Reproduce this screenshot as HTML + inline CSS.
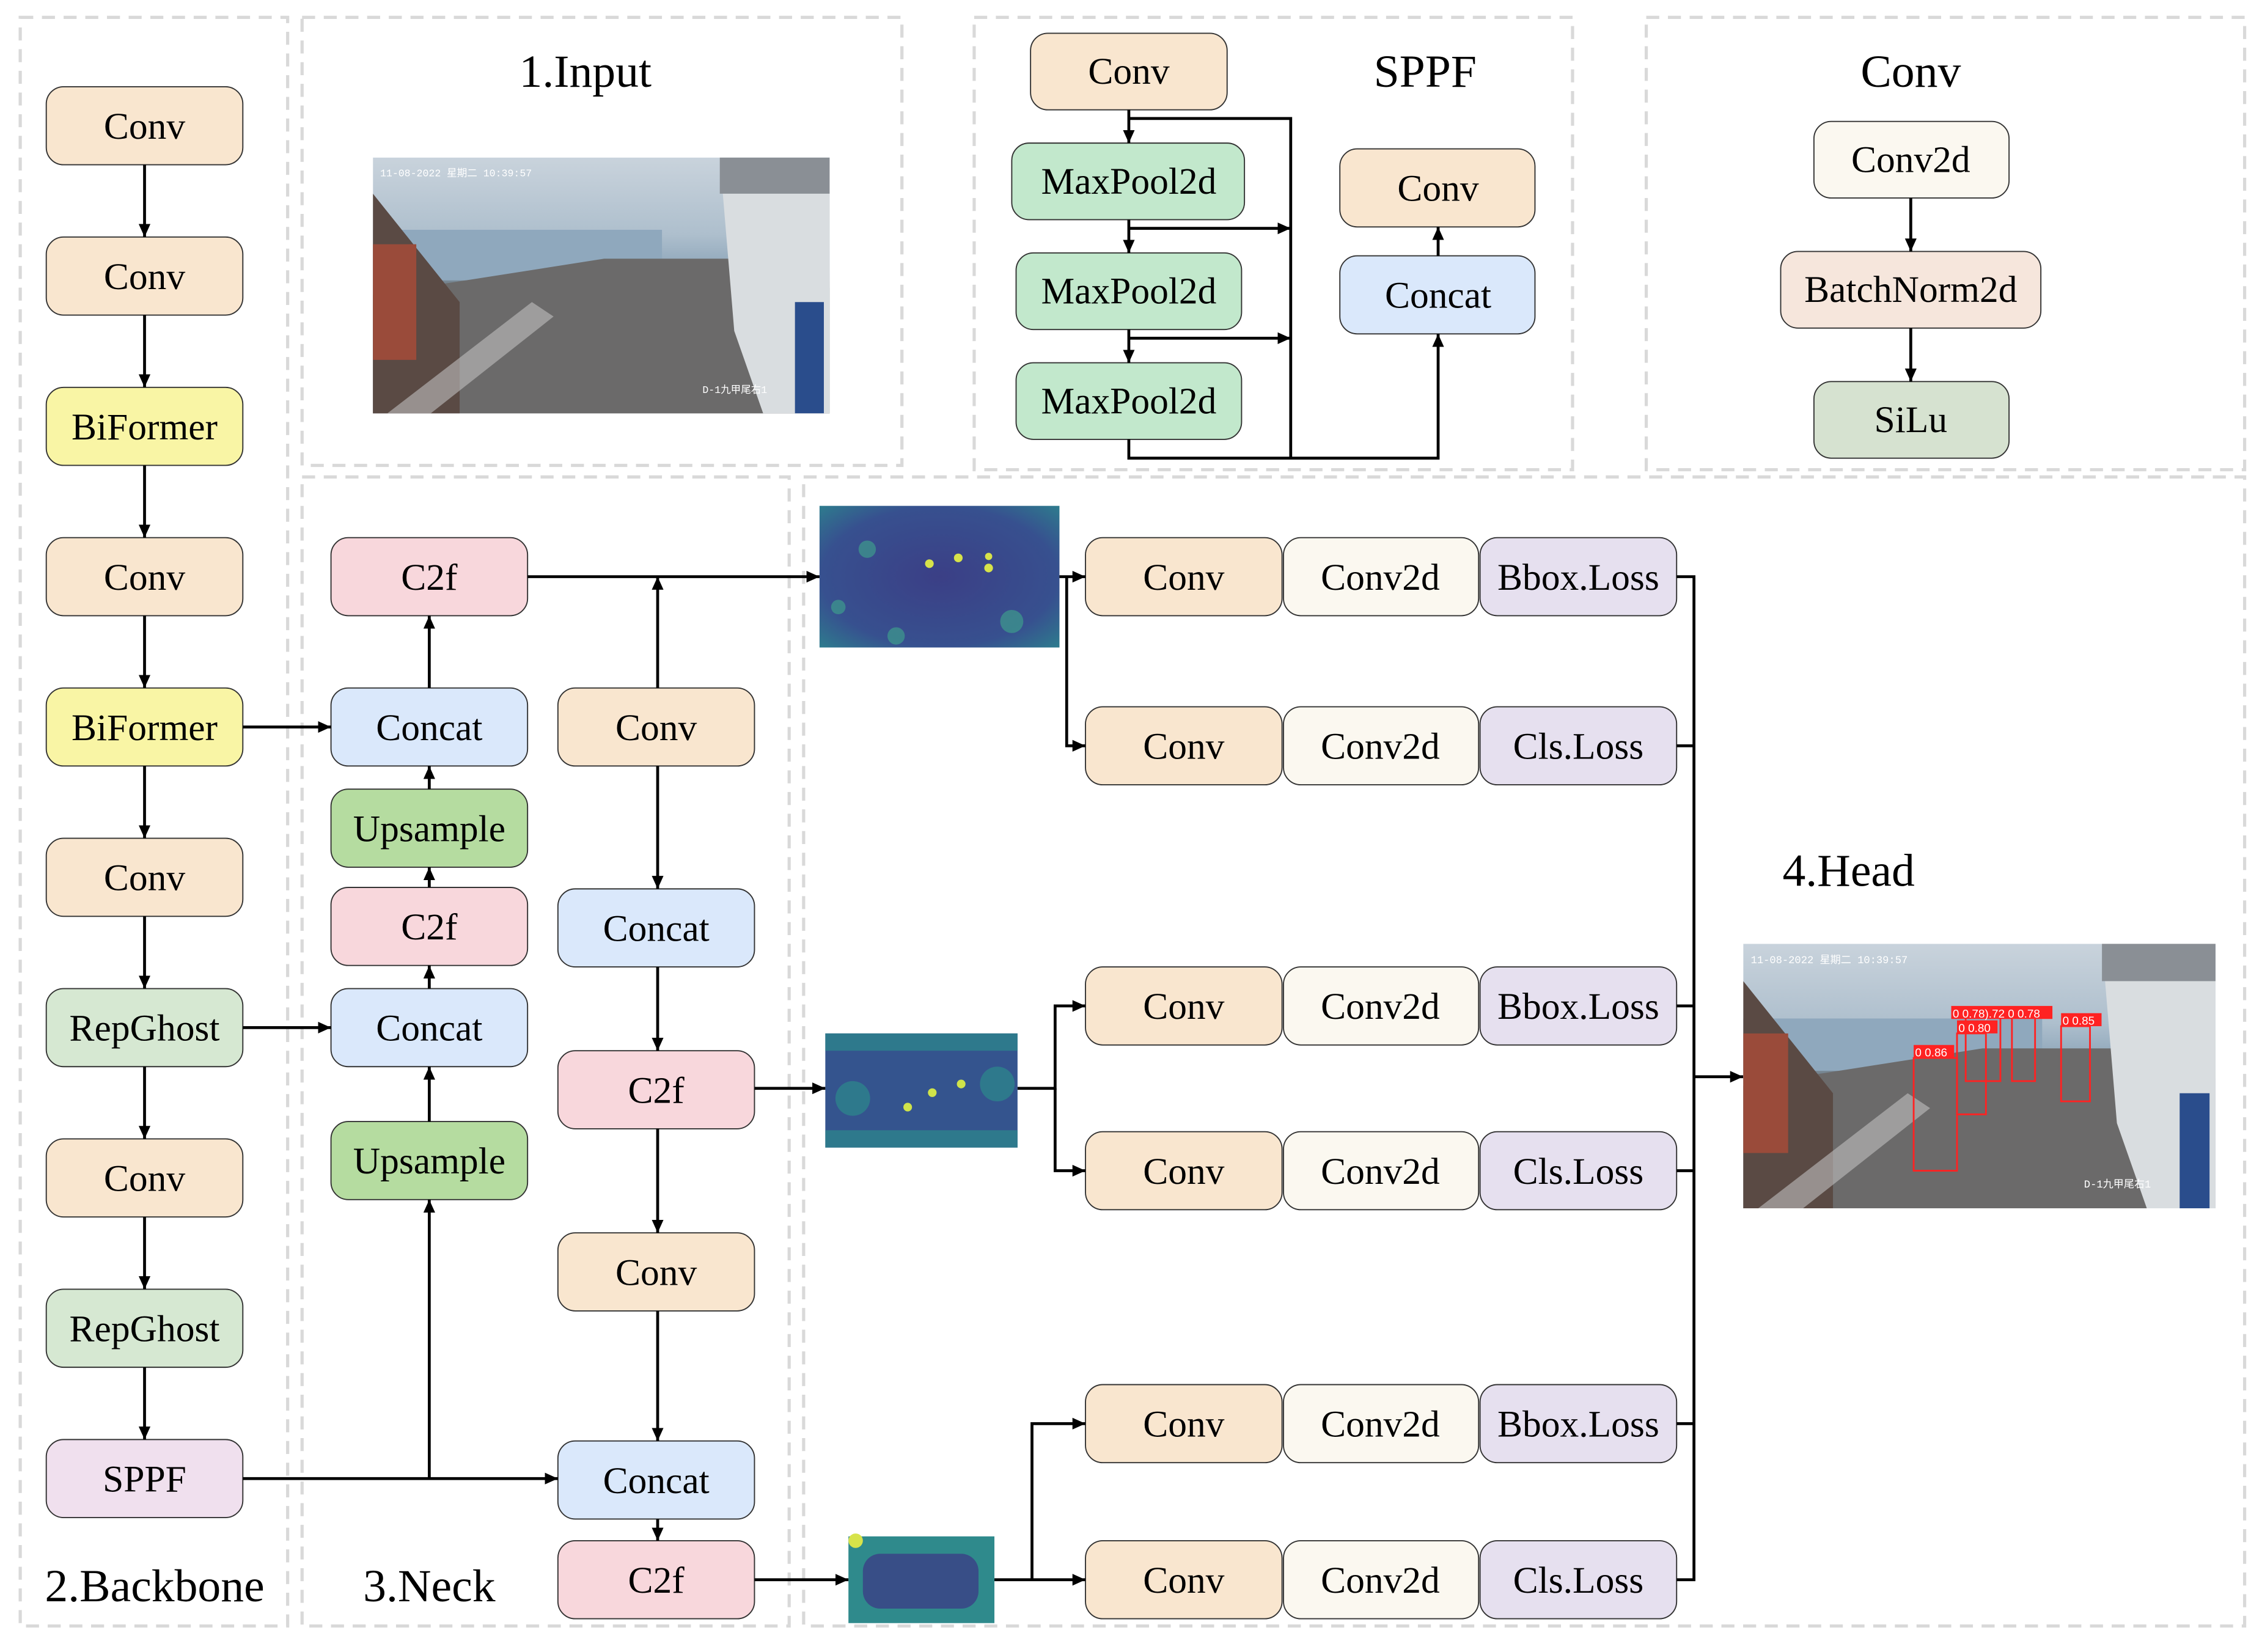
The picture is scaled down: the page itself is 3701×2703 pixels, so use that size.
<!DOCTYPE html>
<html><head><meta charset="utf-8"><style>
html,body{margin:0;padding:0;background:#fff;}
svg{display:block;}
text{font-family:"Liberation Serif","Noto Serif CJK SC",serif;fill:#000;}
</style></head><body>
<svg width="3701" height="2703" viewBox="0 0 1565 1143" xmlns="http://www.w3.org/2000/svg">
<defs>
<marker id="a" viewBox="0 0 10 10" refX="10" refY="5" markerWidth="9" markerHeight="9" orient="auto" markerUnits="userSpaceOnUse"><path d="M0,0.5 L10,5 L0,9.5 z" fill="#000"/></marker>
<linearGradient id="sky" x1="0" y1="0" x2="0" y2="1"><stop offset="0" stop-color="#c9d3dc"/><stop offset="0.3" stop-color="#aebfcd"/><stop offset="0.45" stop-color="#8aa3b8"/><stop offset="0.5" stop-color="#6f7a82"/><stop offset="1" stop-color="#55555a"/></linearGradient>
<radialGradient id="hm" cx="0.5" cy="0.5" r="0.7"><stop offset="0" stop-color="#3b3f86"/><stop offset="0.7" stop-color="#37508f"/><stop offset="1" stop-color="#2e7b8e"/></radialGradient>
<symbol id="photo" viewBox="0 0 316 177">
<rect width="316" height="177" fill="url(#sky)"/>
<rect x="0" y="50" width="200" height="35" fill="#8fa8bd"/>
<polygon points="0,177 0,95 160,70 250,70 316,90 316,177" fill="#6b6a6a"/>
<polygon points="0,25 60,100 60,177 0,177" fill="#5a4a44"/>
<rect x="0" y="60" width="30" height="80" fill="#9a4b3a"/>
<polygon points="240,0 316,0 316,177 270,177 250,120" fill="#d9dde0"/>
<rect x="292" y="100" width="20" height="77" fill="#2a4d8c"/>
<rect x="240" y="0" width="76" height="25" fill="#8a8f95"/>
<polygon points="10,177 110,100 125,110 40,177" fill="#bfbfbf" opacity="0.6"/>
<text x="5" y="13" font-size="7" style="font-family:'Liberation Mono','Noto Sans CJK SC',monospace;fill:#fff">11-08-2022 星期二 10:39:57</text>
<text x="228" y="163" font-size="7" style="font-family:'Liberation Mono','Noto Sans CJK SC',monospace;fill:#fff">D-1九甲尾右1</text>
</symbol>
<g id="row" stroke="#333" stroke-width="0.8"><rect x="751" y="0" width="136" height="54" rx="12" fill="#f9e6cf"/><rect x="888" y="0" width="135" height="54" rx="12" fill="#fbf8f0"/><rect x="1024" y="0" width="136" height="54" rx="12" fill="#e6e0ef"/></g>
</defs>
<g fill="none" stroke="#d9d9d9" stroke-width="2.2" stroke-dasharray="9,6">
<rect x="14" y="12" width="185" height="1113"/>
<rect x="209" y="12" width="415" height="310"/>
<rect x="674" y="12" width="414" height="313"/>
<rect x="1139" y="12" width="414" height="313"/>
<rect x="209" y="330" width="337" height="795"/>
<rect x="556" y="330" width="997" height="795"/>
</g>
<g font-size="32" text-anchor="middle">
<text x="405" y="60">1.Input</text>
<text x="986" y="60">SPPF</text>
<text x="1322" y="60">Conv</text>
<text x="1279" y="613">4.Head</text>
<text x="107" y="1108">2.Backbone</text>
<text x="297" y="1108">3.Neck</text>
</g>
<use href="#photo" x="258" y="109" width="316" height="177"/>
<g>
<use href="#photo" x="1206" y="653" width="327" height="183"/>
<g fill="none" stroke="#f22" stroke-width="1.2">
<rect x="1324" y="732" width="30" height="78"/><rect x="1354" y="715" width="20" height="56"/><rect x="1360" y="700" width="24" height="48"/><rect x="1392" y="700" width="16" height="48"/><rect x="1426" y="710" width="20" height="52"/>
</g>
<g font-size="8">
<rect x="1324" y="723" width="28" height="9" fill="#f22"/><text x="1325" y="731" style="fill:#fff;font-family:'Liberation Sans',sans-serif">0 0.86</text>
<rect x="1354" y="706" width="28" height="9" fill="#f22"/><text x="1355" y="714" style="fill:#fff;font-family:'Liberation Sans',sans-serif">0 0.80</text>
<rect x="1350" y="696" width="70" height="9" fill="#f22"/><text x="1351" y="704" style="fill:#fff;font-family:'Liberation Sans',sans-serif">0 0.78).72 0 0.78</text>
<rect x="1426" y="701" width="28" height="9" fill="#f22"/><text x="1427" y="709" style="fill:#fff;font-family:'Liberation Sans',sans-serif">0 0.85</text>
</g>
</g>
<!-- heatmaps -->
<rect x="567" y="350" width="166" height="98" fill="url(#hm)"/>
<g fill="#3fb08c" opacity="0.55"><circle cx="600" cy="380" r="6"/><circle cx="700" cy="430" r="8"/><circle cx="620" cy="440" r="6"/><circle cx="580" cy="420" r="5"/></g>
<g fill="#d7e34a"><circle cx="643" cy="390" r="3"/><circle cx="663" cy="386" r="3"/><circle cx="684" cy="393" r="3"/><circle cx="684" cy="385" r="2.5"/></g>
<rect x="571" y="715" width="133" height="79" fill="#34548e"/>
<g fill="#2c8a8c" opacity="0.7"><rect x="571" y="715" width="133" height="12"/><rect x="571" y="782" width="133" height="12"/><circle cx="590" cy="760" r="12"/><circle cx="690" cy="750" r="12"/></g>
<g fill="#cfe34a"><circle cx="628" cy="766" r="3"/><circle cx="645" cy="756" r="3"/><circle cx="665" cy="750" r="3"/></g>
<rect x="587" y="1063" width="101" height="60" fill="#2f8a8c"/>
<g fill="#3b3f86" opacity="0.8"><rect x="597" y="1075" width="80" height="38" rx="12"/></g>
<circle cx="592" cy="1066" r="5" fill="#d7e34a"/>
<!-- boxes -->
<g stroke="#333" stroke-width="0.8">
<rect x="32" y="60" width="136" height="54" rx="12" fill="#f9e6cf"/>
<rect x="32" y="164" width="136" height="54" rx="12" fill="#f9e6cf"/>
<rect x="32" y="268" width="136" height="54" rx="12" fill="#f9f5a5"/>
<rect x="32" y="372" width="136" height="54" rx="12" fill="#f9e6cf"/>
<rect x="32" y="476" width="136" height="54" rx="12" fill="#f9f5a5"/>
<rect x="32" y="580" width="136" height="54" rx="12" fill="#f9e6cf"/>
<rect x="32" y="684" width="136" height="54" rx="12" fill="#d6e8d2"/>
<rect x="32" y="788" width="136" height="54" rx="12" fill="#f9e6cf"/>
<rect x="32" y="892" width="136" height="54" rx="12" fill="#d6e8d2"/>
<rect x="32" y="996" width="136" height="54" rx="12" fill="#f0e0ee"/>
<rect x="229" y="372" width="136" height="54" rx="12" fill="#f8d7dc"/>
<rect x="229" y="476" width="136" height="54" rx="12" fill="#dae8fb"/>
<rect x="229" y="546" width="136" height="54" rx="12" fill="#b5dca0"/>
<rect x="229" y="614" width="136" height="54" rx="12" fill="#f8d7dc"/>
<rect x="229" y="684" width="136" height="54" rx="12" fill="#dae8fb"/>
<rect x="229" y="776" width="136" height="54" rx="12" fill="#b5dca0"/>
<rect x="386" y="476" width="136" height="54" rx="12" fill="#f9e6cf"/>
<rect x="386" y="615" width="136" height="54" rx="12" fill="#dae8fb"/>
<rect x="386" y="727" width="136" height="54" rx="12" fill="#f8d7dc"/>
<rect x="386" y="853" width="136" height="54" rx="12" fill="#f9e6cf"/>
<rect x="386" y="997" width="136" height="54" rx="12" fill="#dae8fb"/>
<rect x="386" y="1066" width="136" height="54" rx="12" fill="#f8d7dc"/>
<rect x="713" y="23" width="136" height="53" rx="12" fill="#f9e6cf"/>
<rect x="700" y="99" width="161" height="53" rx="12" fill="#c2e8cc"/>
<rect x="703" y="175" width="156" height="53" rx="12" fill="#c2e8cc"/>
<rect x="703" y="251" width="156" height="53" rx="12" fill="#c2e8cc"/>
<rect x="927" y="103" width="135" height="54" rx="12" fill="#f9e6cf"/>
<rect x="927" y="177" width="135" height="54" rx="12" fill="#dae8fb"/>
<rect x="1255" y="84" width="135" height="53" rx="12" fill="#fbf8f0"/>
<rect x="1232" y="174" width="180" height="53" rx="12" fill="#f6e6dc"/>
<rect x="1255" y="264" width="135" height="53" rx="12" fill="#d6e2d0"/>
</g>
<use href="#row" y="372"/><use href="#row" y="489"/><use href="#row" y="669"/><use href="#row" y="783"/><use href="#row" y="958"/><use href="#row" y="1066"/>
<g font-size="26" text-anchor="middle">
<text x="100" y="96">Conv</text><text x="100" y="200">Conv</text><text x="100" y="304">BiFormer</text><text x="100" y="408">Conv</text><text x="100" y="512">BiFormer</text><text x="100" y="616">Conv</text><text x="100" y="720">RepGhost</text><text x="100" y="824">Conv</text><text x="100" y="928">RepGhost</text><text x="100" y="1032">SPPF</text>
<text x="297" y="408">C2f</text><text x="297" y="512">Concat</text><text x="297" y="582">Upsample</text><text x="297" y="650">C2f</text><text x="297" y="720">Concat</text><text x="297" y="812">Upsample</text>
<text x="454" y="512">Conv</text><text x="454" y="651">Concat</text><text x="454" y="763">C2f</text><text x="454" y="889">Conv</text><text x="454" y="1033">Concat</text><text x="454" y="1102">C2f</text>
<text x="781" y="58">Conv</text><text x="781" y="134">MaxPool2d</text><text x="781" y="210">MaxPool2d</text><text x="781" y="286">MaxPool2d</text><text x="995" y="139">Conv</text><text x="995" y="213">Concat</text>
<text x="1322" y="119">Conv2d</text><text x="1322" y="209">BatchNorm2d</text><text x="1322" y="299">SiLu</text>
<text x="819" y="408">Conv</text><text x="955" y="408">Conv2d</text><text x="1092" y="408">Bbox.Loss</text>
<text x="819" y="525">Conv</text><text x="955" y="525">Conv2d</text><text x="1092" y="525">Cls.Loss</text>
<text x="819" y="705">Conv</text><text x="955" y="705">Conv2d</text><text x="1092" y="705">Bbox.Loss</text>
<text x="819" y="819">Conv</text><text x="955" y="819">Conv2d</text><text x="1092" y="819">Cls.Loss</text>
<text x="819" y="994">Conv</text><text x="955" y="994">Conv2d</text><text x="1092" y="994">Bbox.Loss</text>
<text x="819" y="1102">Conv</text><text x="955" y="1102">Conv2d</text><text x="1092" y="1102">Cls.Loss</text>
</g>
<g stroke="#000" stroke-width="2" fill="none">
<g marker-end="url(#a)">
<line x1="100" y1="114" x2="100" y2="164"/><line x1="100" y1="218" x2="100" y2="268"/><line x1="100" y1="322" x2="100" y2="372"/><line x1="100" y1="426" x2="100" y2="476"/><line x1="100" y1="530" x2="100" y2="580"/><line x1="100" y1="634" x2="100" y2="684"/><line x1="100" y1="738" x2="100" y2="788"/><line x1="100" y1="842" x2="100" y2="892"/><line x1="100" y1="946" x2="100" y2="996"/>
<line x1="168" y1="503" x2="229" y2="503"/><line x1="168" y1="711" x2="229" y2="711"/>
<line x1="168" y1="1023" x2="386" y2="1023"/><line x1="297" y1="1023" x2="297" y2="830"/>
<line x1="297" y1="776" x2="297" y2="738"/><line x1="297" y1="684" x2="297" y2="668"/><line x1="297" y1="614" x2="297" y2="600"/><line x1="297" y1="546" x2="297" y2="530"/><line x1="297" y1="476" x2="297" y2="426"/>
<line x1="365" y1="399" x2="567" y2="399"/><line x1="455" y1="476" x2="455" y2="399"/>
<line x1="455" y1="530" x2="455" y2="615"/><line x1="455" y1="669" x2="455" y2="727"/><line x1="455" y1="781" x2="455" y2="853"/><line x1="455" y1="907" x2="455" y2="997"/><line x1="455" y1="1051" x2="455" y2="1066"/>
<line x1="522" y1="753" x2="571" y2="753"/><line x1="522" y1="1093" x2="587" y2="1093"/>
<line x1="733" y1="399" x2="751" y2="399"/><polyline points="738,399 738,516 751,516"/>
<polyline points="704,753 730,753 730,696 751,696"/><polyline points="730,753 730,810 751,810"/>
<line x1="688" y1="1093" x2="751" y2="1093"/><polyline points="714,1093 714,985 751,985"/>
<line x1="1172" y1="745" x2="1206" y2="745"/>
<line x1="781" y1="76" x2="781" y2="99"/><line x1="781" y1="152" x2="781" y2="175"/><line x1="781" y1="228" x2="781" y2="251"/>
<line x1="781" y1="158" x2="893" y2="158"/><line x1="781" y1="234" x2="893" y2="234"/>
<polyline points="781,304 781,317 995,317 995,231"/><line x1="995" y1="177" x2="995" y2="157"/>
<line x1="1322" y1="137" x2="1322" y2="174"/><line x1="1322" y1="227" x2="1322" y2="264"/>
</g>
<polyline points="781,82 893,82 893,317"/>
<polyline points="1160,399 1172,399 1172,1093 1160,1093"/>
<line x1="1160" y1="516" x2="1172" y2="516"/><line x1="1160" y1="696" x2="1172" y2="696"/><line x1="1160" y1="810" x2="1172" y2="810"/><line x1="1160" y1="985" x2="1172" y2="985"/>
</g>
</svg>
</body></html>
